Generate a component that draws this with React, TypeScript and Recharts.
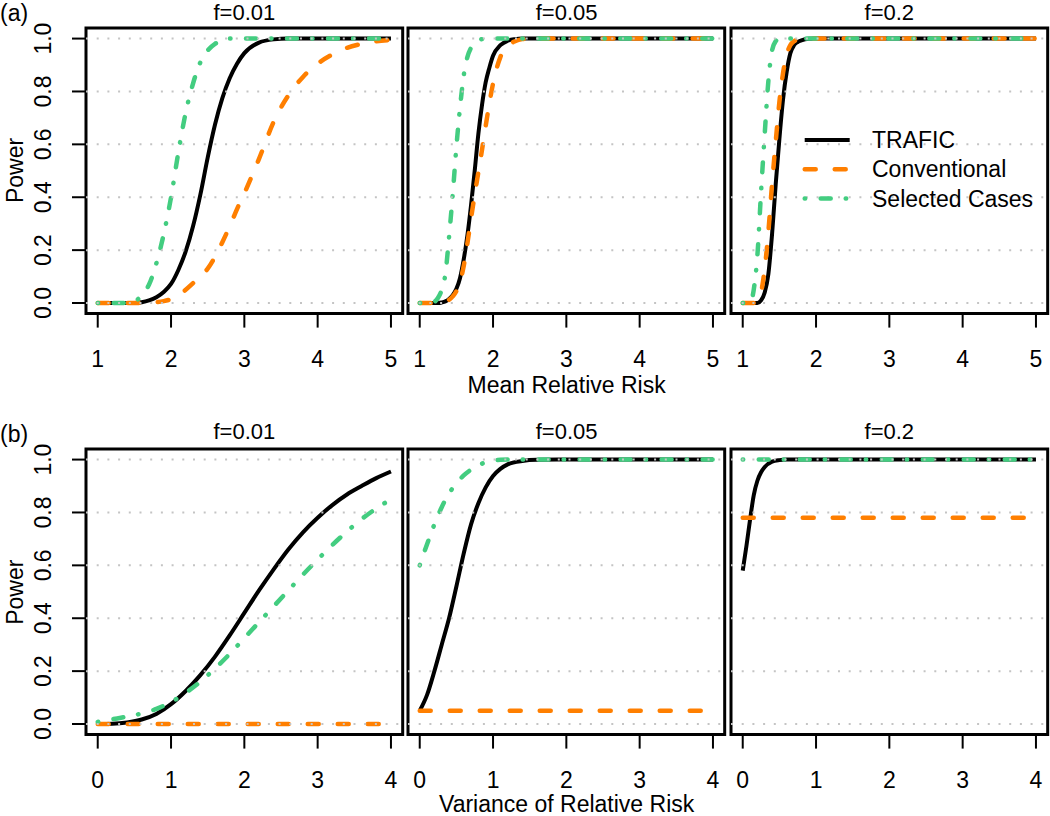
import React from 'react';
import {
  LineChart,
  Line,
  XAxis,
  YAxis,
  ReferenceLine,
  ReferenceArea,
  Legend,
} from 'recharts';

const FONT = '"Liberation Sans", Arial, Helvetica, sans-serif';

const seriesNames = ['TRAFIC', 'Conventional', 'Selected Cases'];
const seriesColors = ['#000000', '#FF7F00', '#43CD80'];
const seriesDash = ['', '11 19', '0.5 15.5 10 15'];
const seriesWidth = [4, 4.5, 4.5];

const freqTitles = ['f=0.01', 'f=0.05', 'f=0.2'];
const powerTicks = [0, 0.2, 0.4, 0.6, 0.8, 1.0];
const meanTicks = [1, 2, 3, 4, 5];
const varTicks = [0, 1, 2, 3, 4];

// (a) power vs mean relative risk
const meanX_f001 = [1, 1.2, 1.4, 1.5, 1.6, 1.7, 1.8, 1.9, 2.0, 2.1, 2.2, 2.3, 2.4, 2.5, 2.6, 2.7, 2.8, 2.9, 3.0, 3.2, 3.4, 3.6, 3.8, 4.0, 4.2, 4.4, 4.6, 4.8, 5.0];
const meanTrafic_f001 = [0, 0, 0, 0, 0.003, 0.01, 0.022, 0.042, 0.072, 0.125, 0.195, 0.29, 0.41, 0.55, 0.675, 0.775, 0.85, 0.905, 0.945, 0.985, 0.997, 1, 1, 1, 1, 1, 1, 1, 1];
const meanConv_f001 = [0, 0, 0, 0, 0, 0.001, 0.003, 0.007, 0.015, 0.03, 0.05, 0.075, 0.1, 0.13, 0.175, 0.23, 0.29, 0.355, 0.415, 0.545, 0.685, 0.785, 0.855, 0.905, 0.94, 0.965, 0.98, 0.99, 0.995];
const meanSel_f001 = [0, 0, 0, 0.005, 0.03, 0.07, 0.15, 0.26, 0.4, 0.57, 0.72, 0.83, 0.91, 0.955, 0.98, 0.993, 1, 1, 1, 1, 1, 1, 1, 1, 1, 1, 1, 1, 1];

const meanX_f005 = [1, 1.1, 1.2, 1.25, 1.3, 1.35, 1.4, 1.45, 1.5, 1.55, 1.6, 1.65, 1.7, 1.75, 1.8, 1.85, 1.9, 1.95, 2.0, 2.1, 2.2, 2.3, 2.4, 2.5, 3.0, 3.5, 4.0, 4.5, 5.0];
const meanTrafic_f005 = [0, 0, 0, 0, 0.002, 0.006, 0.015, 0.03, 0.054, 0.095, 0.165, 0.255, 0.37, 0.5, 0.64, 0.75, 0.835, 0.89, 0.935, 0.975, 0.992, 0.998, 1, 1, 1, 1, 1, 1, 1];
const meanConv_f005 = [0, 0, 0, 0, 0.002, 0.005, 0.012, 0.025, 0.045, 0.08, 0.14, 0.225, 0.32, 0.41, 0.495, 0.58, 0.67, 0.755, 0.83, 0.93, 0.972, 0.99, 0.998, 1, 1, 1, 1, 1, 1];
const meanSel_f005 = [0, 0, 0.005, 0.02, 0.05, 0.11, 0.25, 0.41, 0.59, 0.74, 0.86, 0.93, 0.965, 0.982, 0.993, 0.998, 1, 1, 1, 1, 1, 1, 1, 1, 1, 1, 1, 1, 1];

const meanX_f02 = [1, 1.1, 1.15, 1.2, 1.25, 1.3, 1.35, 1.4, 1.45, 1.5, 1.55, 1.6, 1.65, 1.7, 1.75, 1.8, 1.9, 2.0, 2.5, 3.0, 3.5, 4.0, 4.5, 5.0];
const meanTrafic_f02 = [0, 0, 0, 0, 0.01, 0.04, 0.11, 0.26, 0.45, 0.62, 0.77, 0.875, 0.945, 0.975, 0.987, 0.993, 0.999, 1, 1, 1, 1, 1, 1, 1];
const meanConv_f02 = [0, 0, 0, 0.005, 0.04, 0.13, 0.27, 0.45, 0.61, 0.76, 0.87, 0.94, 0.975, 0.99, 0.996, 1, 1, 1, 1, 1, 1, 1, 1, 1];
const meanSel_f02 = [0, 0, 0.05, 0.18, 0.42, 0.64, 0.84, 0.955, 0.99, 1, 1, 1, 1, 1, 1, 1, 1, 1, 1, 1, 1, 1, 1, 1];

// (b) power vs variance of relative risk
const varX_f001 = [0, 0.2, 0.4, 0.6, 0.8, 1.0, 1.2, 1.4, 1.6, 1.8, 2.0, 2.2, 2.4, 2.6, 2.8, 3.0, 3.2, 3.4, 3.6, 3.8, 4.0];
const varTrafic_f001 = [0, 0.001, 0.006, 0.017, 0.038, 0.075, 0.125, 0.185, 0.255, 0.335, 0.42, 0.505, 0.585, 0.66, 0.725, 0.78, 0.828, 0.868, 0.9, 0.93, 0.955];
const varConv_f001 = [0, 0, 0, 0, 0, 0, 0, 0, 0, 0, 0, 0, 0, 0, 0, 0, 0, 0, 0, 0, 0];
const varSel_f001 = [0.008, 0.018, 0.028, 0.04, 0.057, 0.083, 0.118, 0.16, 0.21, 0.265, 0.325, 0.385, 0.445, 0.505, 0.565, 0.622, 0.677, 0.728, 0.775, 0.815, 0.85];

const varX_f005 = [0, 0.1, 0.2, 0.3, 0.4, 0.5, 0.6, 0.7, 0.8, 0.9, 1.0, 1.1, 1.2, 1.4, 1.6, 2.0, 2.5, 3.0, 3.5, 4.0];
const varTrafic_f005 = [0.05, 0.11, 0.2, 0.3, 0.4, 0.52, 0.645, 0.755, 0.835, 0.895, 0.938, 0.965, 0.982, 0.995, 0.999, 1, 1, 1, 1, 1];
const varConv_f005 = [0.05, 0.05, 0.05, 0.05, 0.05, 0.05, 0.05, 0.05, 0.05, 0.05, 0.05, 0.05, 0.05, 0.05, 0.05, 0.05, 0.05, 0.05, 0.05, 0.05];
const varSel_f005 = [0.6, 0.68, 0.755, 0.82, 0.872, 0.91, 0.94, 0.962, 0.978, 0.99, 0.996, 0.999, 1, 1, 1, 1, 1, 1, 1, 1];

const varX_f02 = [0, 0.05, 0.1, 0.15, 0.2, 0.25, 0.3, 0.4, 0.5, 0.6, 0.8, 1, 2, 3, 4];
const varTrafic_f02 = [0.58, 0.672, 0.773, 0.865, 0.92, 0.952, 0.972, 0.992, 0.998, 1, 1, 1, 1, 1, 1];
const varConv_f02 = [0.78, 0.78, 0.78, 0.78, 0.78, 0.78, 0.78, 0.78, 0.78, 0.78, 0.78, 0.78, 0.78, 0.78, 0.78];
const varSel_f02 = [1, 1, 1, 1, 1, 1, 1, 1, 1, 1, 1, 1, 1, 1, 1];

// layout (px)
const BOX_LEFT = [86, 408.3, 731];
const BOX_TOP = [27.7, 449.4];
const BOX_W = 316.7;
const BOX_H = 285.6;
const PAD = 6;
const X_H = 70;
const Y_W = 86;
const FS = 23;

const panels = [
  { row: 0, col: 0, xs: meanX_f001, ys: [meanTrafic_f001, meanConv_f001, meanSel_f001], ticks: meanTicks },
  { row: 0, col: 1, xs: meanX_f005, ys: [meanTrafic_f005, meanConv_f005, meanSel_f005], ticks: meanTicks },
  { row: 0, col: 2, xs: meanX_f02, ys: [meanTrafic_f02, meanConv_f02, meanSel_f02], ticks: meanTicks, legend: true },
  { row: 1, col: 0, xs: varX_f001, ys: [varTrafic_f001, varConv_f001, varSel_f001], ticks: varTicks },
  { row: 1, col: 1, xs: varX_f005, ys: [varTrafic_f005, varConv_f005, varSel_f005], ticks: varTicks },
  { row: 1, col: 2, xs: varX_f02, ys: [varTrafic_f02, varConv_f02, varSel_f02], ticks: varTicks },
];

const PowerTick = (props: any) => {
  const { x, y, payload } = props;
  return (
    <text x={x} y={y} transform={`rotate(-90, ${x}, ${y})`} textAnchor="middle"
      fontSize={FS} fill="#000" fontFamily={FONT}>
      {Number(payload.value).toFixed(1)}
    </text>
  );
};

const LegendBox = () => (
  <svg width={260} height={100} style={{ overflow: 'visible' }}>
    {seriesNames.map((name, i) => {
      const y = 18 + i * 29.2;
      return (
        <g key={name}>
          <line x1={4.7} x2={49.7} y1={y} y2={y} stroke={seriesColors[i]} strokeWidth={seriesWidth[i]}
            strokeDasharray={seriesDash[i] || undefined} strokeLinecap={i === 0 ? 'butt' : 'round'} />
          <text x={72} y={y} dy="0.36em" fontSize={FS} fontFamily={FONT} fill="#000">{name}</text>
        </g>
      );
    })}
  </svg>
);

function Panel({ p }: { p: any }) {
  const showY = p.col === 0;
  const left = showY ? BOX_LEFT[0] - Y_W : BOX_LEFT[p.col] - PAD;
  const top = BOX_TOP[p.row] - PAD;
  const width = BOX_LEFT[p.col] + BOX_W + PAD - left;
  const height = PAD + BOX_H + X_H;
  const t0 = p.ticks[0];
  const t1 = p.ticks[p.ticks.length - 1];
  const ext = (t1 - t0) * 0.04;
  const xDom = [t0 - ext, t1 + ext];
  const yDom = [-0.04, 1.04];

  return (
    <div style={{ position: 'absolute', left, top }}>
      <LineChart width={width} height={height}
        margin={{ top: PAD, right: PAD, bottom: 0, left: showY ? 0 : PAD }}>
        <XAxis type="number" dataKey="x" domain={xDom} ticks={p.ticks} allowDataOverflow
          interval={0} axisLine={false} height={X_H} tickSize={14} tickMargin={23}
          tickLine={{ stroke: '#000', strokeWidth: 2 }}
          tick={{ fill: '#000', fontSize: FS, fontFamily: FONT }} />
        <YAxis type="number" domain={yDom} ticks={powerTicks} allowDataOverflow hide={!showY}
          width={Y_W} axisLine={false} tickSize={14} tickMargin={20.5}
          tickLine={{ stroke: '#000', strokeWidth: 2 }} tick={<PowerTick />} />
        {p.ys.map((ys: number[], i: number) => (
          <Line key={seriesNames[i]} name={seriesNames[i]}
            data={p.xs.map((x: number, k: number) => ({ x, y: ys[k] }))}
            dataKey="y" type="monotone" dot={false} activeDot={false}
            stroke={seriesColors[i]} strokeWidth={seriesWidth[i]}
            strokeDasharray={seriesDash[i] || undefined}
            strokeLinecap={i === 0 ? 'butt' : 'round'}
            isAnimationActive={false} />
        ))}
        {powerTicks.map((v) => (
          <ReferenceLine key={v} y={v} stroke="#c4c4c4" strokeWidth={2} strokeDasharray="2 8.7" />
        ))}
        <ReferenceArea x1={xDom[0]} x2={xDom[1]} y1={yDom[0]} y2={yDom[1]} ifOverflow="visible"
          fill="none" fillOpacity={0} stroke="#000" strokeWidth={3} />
        {p.legend && (
          <Legend layout="vertical" align="center" verticalAlign="middle"
            wrapperStyle={{ left: 75, top: 100, width: 260, height: 100 }}
            content={() => <LegendBox />} />
        )}
      </LineChart>
    </div>
  );
}

export default function App() {
  const centers = BOX_LEFT.map((l) => l + BOX_W / 2);
  return (
    <div style={{ position: 'absolute', left: 0, top: 0, width: 1050, height: 816, background: '#fff', fontFamily: FONT }}>
      {panels.map((p) => <Panel key={`${p.row}-${p.col}`} p={p} />)}
      <svg width={1050} height={816} style={{ position: 'absolute', left: 0, top: 0, pointerEvents: 'none' }}
        fontFamily={FONT} fontSize={FS} fill="#000">
        <text x={0} y={21}>(a)</text>
        <text x={0} y={442}>(b)</text>
        {freqTitles.map((t, i) => (
          <text key={`ta${i}`} x={centers[i]} y={20} fontSize={22} textAnchor="middle">{t}</text>
        ))}
        {freqTitles.map((t, i) => (
          <text key={`tb${i}`} x={centers[i]} y={439} fontSize={22} textAnchor="middle">{t}</text>
        ))}
        <text x={centers[1]} y={393.3} textAnchor="middle">Mean Relative Risk</text>
        <text x={centers[1]} y={812} textAnchor="middle">Variance of Relative Risk</text>
        <text x={23.3} y={BOX_TOP[0] + BOX_H / 2} transform={`rotate(-90, 23.3, ${BOX_TOP[0] + BOX_H / 2})`} textAnchor="middle">Power</text>
        <text x={23.3} y={BOX_TOP[1] + BOX_H / 2} transform={`rotate(-90, 23.3, ${BOX_TOP[1] + BOX_H / 2})`} textAnchor="middle">Power</text>
      </svg>
    </div>
  );
}
